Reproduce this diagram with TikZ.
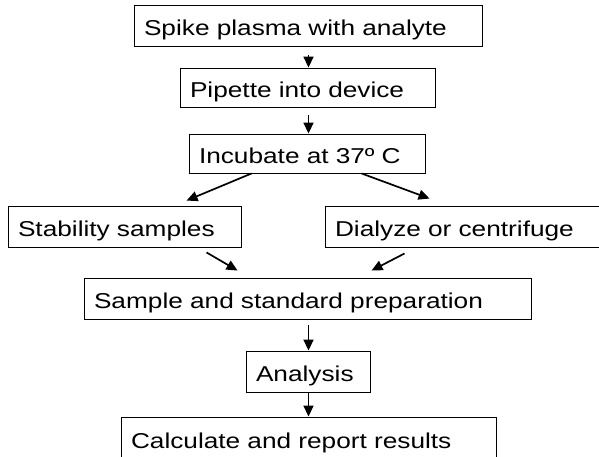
\documentclass[tikz,border=0pt]{standalone}
\usepackage{fontspec}
\setmainfont{Liberation Sans}[FakeStretch=1.22]
\usetikzlibrary{arrows.meta,calc}
\tikzset{
  stepbox/.style={draw=black, line width=0.9pt, inner xsep=10pt, inner ysep=0pt,
    text height=20pt, text depth=0pt,
    align=left, font=\fontsize{21.5}{25}\selectfont, anchor=center},
  arr/.style={line width=1.7pt, -{Triangle[length=11pt,width=10pt]}}
}
\begin{document}
\begin{tikzpicture}[x=1pt,y=-1pt]
\useasboundingbox (0,0) rectangle (599,456);
\node[stepbox, text width=328pt, minimum height=41pt] (spike) at (308,25.5) {Spike plasma with analyte};
\node[stepbox, text width=235pt, minimum height=39pt] (pip) at (307.5,87.5) {Pipette into device};
\node[stepbox, text width=216pt, minimum height=39pt] (inc) at (307,153.5) {Incubate at 37º C};
\node[stepbox, text width=213pt, minimum height=41pt] (stab) at (124.5,226.5) {Stability samples};
\node[stepbox, text width=260pt, minimum height=41pt] (dial) at (465,226.5) {Dialyze or centrifuge};
\node[stepbox, text width=427pt, minimum height=41pt] (samp) at (307.5,298.5) {Sample and standard preparation};
\node[stepbox, text width=104pt, minimum height=41pt] (ana) at (308,371.5) {Analysis};
\node[stepbox, text width=355pt, minimum height=42pt] (calc) at (308.5,438) {Calculate and report results};
\coordinate (ax) at (308.5,0);
\draw[arr, shorten <=9pt] (spike.south -| ax) -- (pip.north -| ax);
\draw[arr, shorten <=8pt] (pip.south -| ax) -- (inc.north -| ax);
\draw[arr] ($(inc.south west)+(63,0)$) -- ($(stab.north west)+(179,-5)$);
\draw[arr] ($(inc.south west)+(173,0)$) -- ($(dial.north west)+(105,-7)$);
\draw[arr] ($(stab.south west)+(199,5)$) -- ($(samp.north west)+(154,-7)$);
\draw[arr] ($(dial.south west)+(80,6)$) -- ($(samp.north west)+(288,-7)$);
\draw[arr, shorten <=6pt] (samp.south -| ax) -- (ana.north -| ax);
\draw[arr, shorten <=1pt] (ana.south -| ax) -- (calc.north -| ax);
\end{tikzpicture}
\end{document}
